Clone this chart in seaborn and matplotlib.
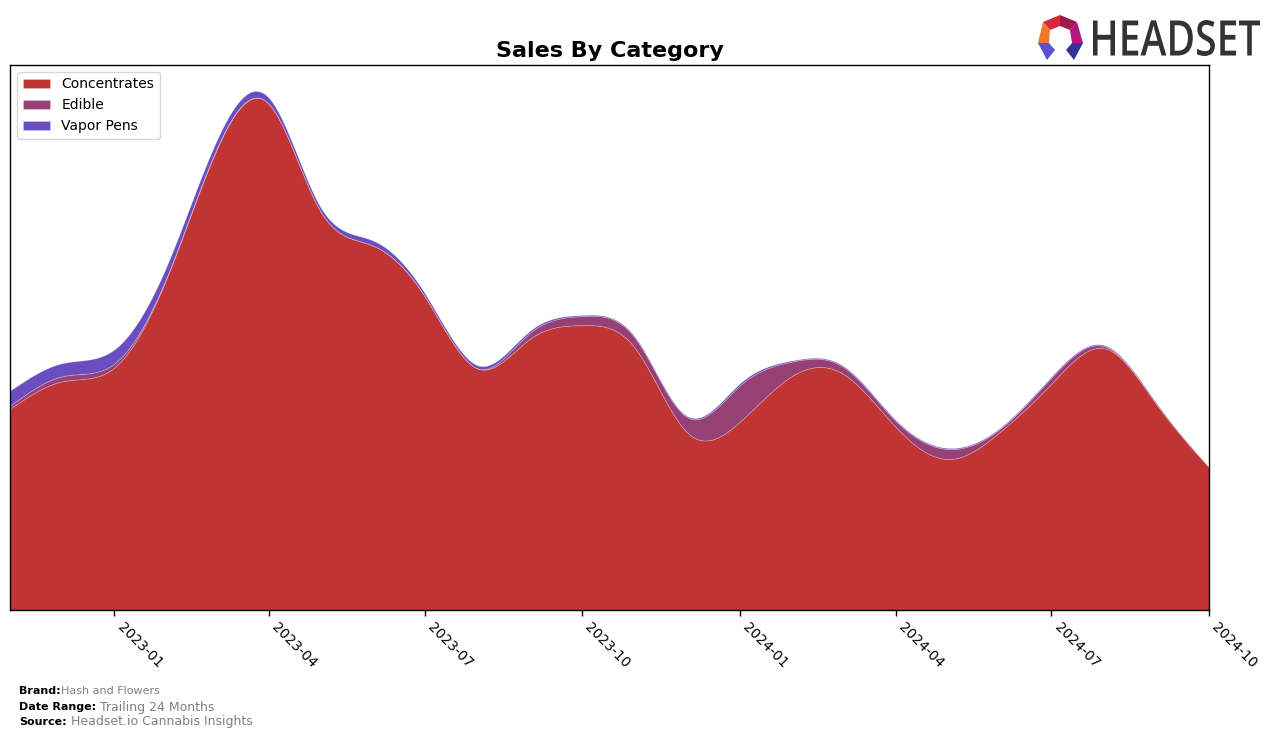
import numpy as np
import pandas as pd
import matplotlib
matplotlib.use("Agg")
import matplotlib.pyplot as plt
import matplotlib.dates as mdates
from matplotlib.textpath import TextPath
from matplotlib.patches import PathPatch, Polygon
from matplotlib.font_manager import FontProperties
from matplotlib.transforms import Affine2D
import seaborn as sns

# ---------------- data (monthly) ----------------
months = pd.date_range("2022-11-01", "2024-10-01", freq="MS")
categories = ["Concentrates", "Edible", "Vapor Pens"]
concentrates = [200, 227, 241, 332, 455, 503, 397, 362, 312, 240, 270, 283,
                260, 177, 187, 233, 235, 182, 150, 177, 225, 260, 203, 142]
edible = [3, 5, 4, 1, 1, 0, 0, 0, 0, 0, 6, 9,
          10, 15, 36, 14, 7, 6, 10, 3, 6, 2, 0, 0]
vapor_pens = [15, 13, 14, 11, 8, 6, 4, 5, 3, 3, 2, 1,
              1, 1, 2, 1, 1, 1, 1, 1, 1, 1, 1, 0]
colors = ["#C13434", "#964075", "#6A4EBF"]
tick_dates = ["2023-01-01", "2023-04-01", "2023-07-01", "2023-10-01",
              "2024-01-01", "2024-04-01", "2024-07-01", "2024-10-01"]


def natural_spline(x, y, xs):
    x = np.asarray(x, float)
    y = np.asarray(y, float)
    n = len(x)
    h = np.diff(x)
    A = np.zeros((n, n))
    b = np.zeros(n)
    A[0, 0] = 1
    A[-1, -1] = 1
    for i in range(1, n - 1):
        A[i, i - 1] = h[i - 1]
        A[i, i] = 2 * (h[i - 1] + h[i])
        A[i, i + 1] = h[i]
        b[i] = 3 * ((y[i + 1] - y[i]) / h[i] - (y[i] - y[i - 1]) / h[i - 1])
    c = np.linalg.solve(A, b)
    idx = np.clip(np.searchsorted(x, xs) - 1, 0, n - 2)
    dx = xs - x[idx]
    bb = (y[idx + 1] - y[idx]) / h[idx] - h[idx] * (2 * c[idx] + c[idx + 1]) / 3
    d = (c[idx + 1] - c[idx]) / (3 * h[idx])
    return y[idx] + bb * dx + c[idx] * dx ** 2 + d * dx ** 3


sns.set_theme(style="white")
plt.rcParams["font.family"] = ["DejaVu Sans"]
plt.rcParams["text.color"] = "black"
plt.rcParams["axes.labelcolor"] = "black"
plt.rcParams["xtick.color"] = "black"

W, H = 1276, 739
fig = plt.figure(figsize=(W / 100, H / 100), dpi=100)
ax = fig.add_axes([10 / W, 1 - 610 / H, (1209 - 10) / W, (610 - 65) / H])

xnum = mdates.date2num(months)
xs = np.linspace(xnum[0], xnum[-1], 600)
smooth = [np.clip(natural_spline(xnum, s, xs), 0, None)
          for s in (concentrates, edible, vapor_pens)]

ax.stackplot(mdates.num2date(xs), *smooth, labels=categories, colors=colors,
             linewidth=0.6, edgecolor="#ffffff40")
ax.margins(x=0)
ax.set_xlim(mdates.num2date(xnum[0]), mdates.num2date(xnum[-1]))
ax.set_ylim(0, np.sum(smooth, axis=0).max() * 1.05)

ax.xaxis.set_major_formatter(mdates.DateFormatter("%Y-%m"))
ax.set_xticks(pd.to_datetime(tick_dates))
ax.set_yticks([])
ax.tick_params(axis="x", bottom=True, length=4, width=1, color="black",
               labelsize=10, labelcolor="black", pad=3)
for lab in ax.get_xticklabels():
    lab.set_rotation(-45)
    lab.set_ha("left")
for sp in ax.spines.values():
    sp.set_visible(True)
    sp.set_color("black")
    sp.set_linewidth(1)

ax.set_title("Sales By Category", fontsize=16, fontweight="bold", pad=6,
             color="black")
leg = ax.legend(loc="upper left", fontsize=10, frameon=True)
leg.get_frame().set_edgecolor("#cccccc")
for t in leg.get_texts():
    t.set_color("black")

# ---------------- footer ----------------
rows = [("Brand:", "Hash and Flowers", 8, 691),
        ("Date Range:", "Trailing 24 Months", 9, 707),
        ("Source:", "Headset.io Cannabis Insights", 9, 722)]
for lab, val, fs, ypix in rows:
    t = fig.text(19 / W, 1 - ypix / H, lab, fontsize=8, fontweight="bold",
                 color="black", va="center", ha="left")
    fig.canvas.draw()
    ax.annotate(" " + val if fs > 8 else val, xy=(1, 0.5), xycoords=t,
                va="center", ha="left", fontsize=fs, color="#808080",
                annotation_clip=False)

# ---------------- logo ----------------
fp = FontProperties(family="Open Sans", weight="semibold")
tp = TextPath((0, 0), "HEADSET", size=1, prop=fp)
ext = tp.get_extents()
x0, y0, x1, y1 = 1093, H - 56, 1260, H - 20
sx = (x1 - x0) / ext.width
sy = (y1 - y0) / ext.height
tr = (Affine2D().translate(-ext.x0, -ext.y0).scale(sx, sy).translate(x0, y0)
      .scale(1 / W, 1 / H) + fig.transFigure)
fig.patches.append(PathPatch(tp, transform=tr, facecolor="#333333",
                             edgecolor="none"))

icon = [
    ([(1043, 22), (1060, 15), (1060, 26), (1050, 30)], "#d62a3c"),
    ([(1060, 15), (1077, 22), (1070, 30), (1060, 26)], "#a3194a"),
    ([(1043, 22), (1050, 30), (1049, 43), (1038, 43)], "#f07a2a"),
    ([(1077, 22), (1083, 43), (1072, 43), (1070, 30)], "#b3177e"),
    ([(1038, 43), (1049, 43), (1055, 50), (1047, 60)], "#5b50d0"),
    ([(1072, 43), (1083, 43), (1074, 60), (1066, 50)], "#34339a"),
]
for pts, col in icon:
    fig.patches.append(Polygon([(px / W, 1 - py / H) for px, py in pts],
                               closed=True, transform=fig.transFigure,
                               facecolor=col, edgecolor="none"))

fig.savefig("out.png", dpi=100)
